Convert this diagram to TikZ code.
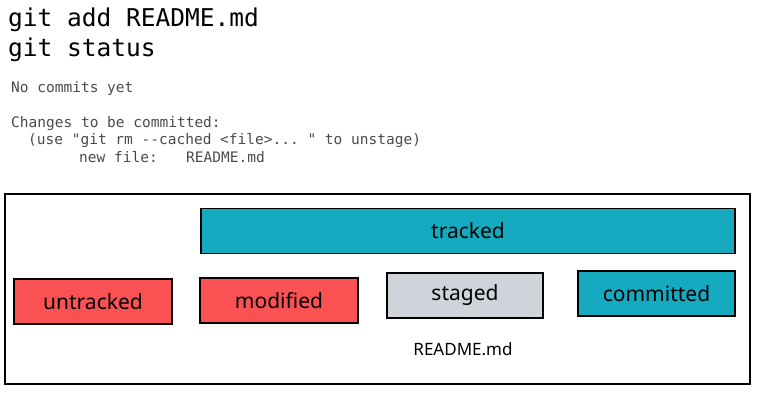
\documentclass[tikz,border=0pt]{standalone}
\usepackage{fontspec}
\setmainfont{Noto Sans}
\setmonofont{DejaVu Sans Mono}
\usetikzlibrary{arrows.meta}
\definecolor{stred}{HTML}{FA5252}
\definecolor{stcyan}{HTML}{15AABF}
\definecolor{stgray}{HTML}{CED4DA}
\definecolor{termgray}{HTML}{4A4A4A}

\begin{document}
\begin{tikzpicture}[x=1pt,y=-1pt,
  state/.style={draw=black,line width=1.4pt,minimum height=45pt,font=\fontsize{21}{21}\selectfont},
  term/.style={anchor=base west,text=termgray,inner sep=0pt,font=\ttfamily\fontsize{14.5}{14.5}\selectfont}]
\useasboundingbox (0,0) rectangle (760,403);
% commands
\node[anchor=base west,inner sep=0pt,font=\ttfamily\fontsize{24.5}{24.5}\selectfont] (cmdadd) at (8,27) {git add README.md};
\node[anchor=base west,inner sep=0pt,font=\ttfamily\fontsize{24.5}{24.5}\selectfont] (cmdstatus) at (8,57) {git status};
% output
\node[term] (out1) at (11,93) {No commits yet};
\node[term] (out2) at (11,128) {Changes to be committed:};
\node[term] (out3) at (28,145) {(use "git rm -{}-cached <file>...\ " to unstage)};
\node[term] (out4) at (79,163) {new file:};
\node[term] (out5) at (186,163) {README.md};

\node[draw=black,line width=1.4pt,minimum width=745pt,minimum height=190pt] (frame) at (377.5,289) {};
\begin{scope}[every node/.style={state}]
    \node[fill=stcyan,minimum width=534pt] (tracked) at (468,231) {tracked};
    \node[fill=stred,minimum width=158pt] (untracked) at (93,301.5) {untracked};
    \node[fill=stred,minimum width=158pt] (modified) at (279,300.5) {modified};
    \node[fill=stgray,minimum width=156pt] (staged) at (465,295.5) {staged};
    \node[fill=stcyan,minimum width=157pt] (committed) at (656.5,293.5) {committed};
\end{scope}
\node[font=\fontsize{17}{17}\selectfont] (file) at (463,349) {README.md};
\end{tikzpicture}
\end{document}
